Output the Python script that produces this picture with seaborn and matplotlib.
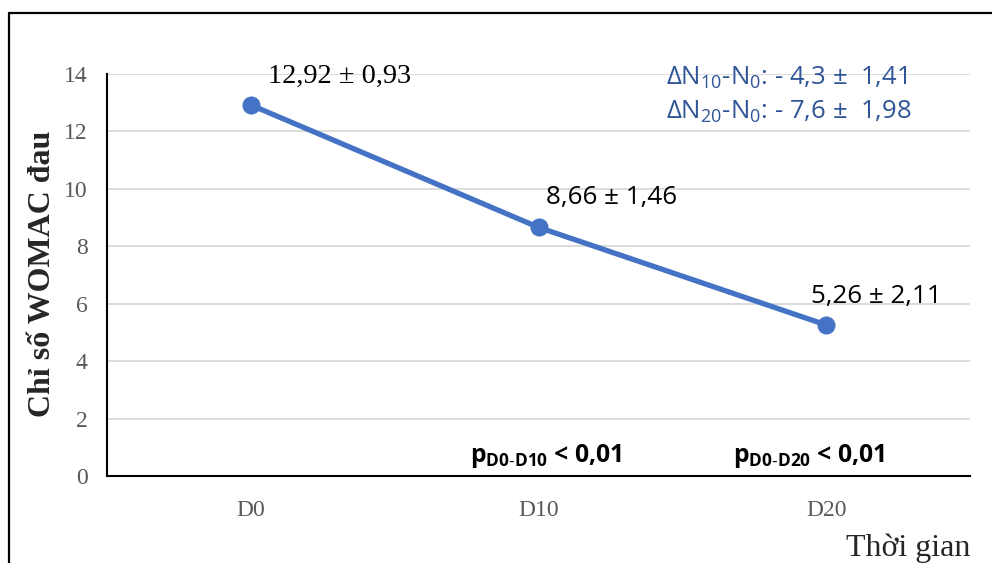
import matplotlib
matplotlib.use("Agg")
import matplotlib.pyplot as plt
import seaborn as sns
import pandas as pd
from matplotlib.lines import Line2D

# dữ liệu
thoi_diem = ["D0", "D10", "D20"]
womac = [12.92, 8.66, 5.26]
nhan = ["12,92 ± 0,93", "8,66 ± 1,46", "5,26 ± 2,11"]
delta_text = [r"$\Delta N_{10}$-$N_{0}$: - 4,3 ±  1,41",
              r"$\Delta N_{20}$-$N_{0}$: - 7,6 ±  1,98"]
p_text = [r"$\mathbf{p_{D0\text{-}D10}}$ < 0,01",
          r"$\mathbf{p_{D0\text{-}D20}}$ < 0,01"]

sns.set_style("white")
plt.rcParams['font.family'] = ['Liberation Serif', 'DejaVu Serif']
plt.rcParams['mathtext.fontset'] = 'custom'
plt.rcParams['mathtext.rm'] = 'Open Sans'
plt.rcParams['mathtext.it'] = 'Open Sans'
plt.rcParams['mathtext.bf'] = 'Open Sans:bold'
plt.rcParams['mathtext.default'] = 'regular'

W, H = 992, 563
fig = plt.figure(figsize=(W / 100, H / 100), dpi=100)
ax = fig.add_axes([107 / W, 1 - 476 / H, (970 - 107) / W, (476 - 74) / H])

df = pd.DataFrame({"t": thoi_diem, "v": womac})
sns.lineplot(data=df, x="t", y="v", ax=ax, color="#4472C4", linewidth=3.8,
             marker="o", markersize=13, markeredgewidth=0, zorder=3)

ax.set_xlim(-0.5, 2.5)
ax.set_ylim(0, 14)
ax.set_yticks(range(0, 15, 2))
ax.grid(axis="y", color="#D9D9D9", linewidth=1.3)
ax.set_axisbelow(True)
ax.set_xticks([-0.5, 0.5, 1.5, 2.5])
ax.set_xticklabels([])
ax.set_xticks(range(len(thoi_diem)), minor=True)
ax.set_xticklabels(thoi_diem, minor=True)
ax.tick_params(axis="x", which="major", length=6, width=1.2, color="black", direction="out")
ax.tick_params(axis="x", which="minor", length=0, pad=17, labelsize=17, labelcolor="#595959")
ax.tick_params(axis="y", length=6, width=1.2, color="black", direction="out",
               labelsize=17, labelcolor="#595959", pad=8)
for s in ["top", "right"]:
    ax.spines[s].set_visible(False)
for s in ["left", "bottom"]:
    ax.spines[s].set_color("black")
    ax.spines[s].set_linewidth(1.5)
ax.set_xlabel("")
ax.set_ylabel("")

# nhãn dữ liệu
offsets = [(17, 22), (7, 23), (-15, 22)]
fonts = [dict(family=['Liberation Serif'], fontsize=20.5),
         dict(family=['Open Sans'], fontsize=18.7),
         dict(family=['Open Sans'], fontsize=18.7)]
for i in range(len(thoi_diem)):
    ax.annotate(nhan[i], (i, womac[i]), xytext=offsets[i], textcoords="offset pixels",
                ha="left", va="baseline", color="black", **fonts[i])

# chú thích
fig.text(666 / W, 1 - 78 / H, delta_text[0], family=['Open Sans'], fontsize=18.5,
         color="#2F5597", ha="left", va="center")
fig.text(666 / W, 1 - 112 / H, delta_text[1], family=['Open Sans'], fontsize=18.5,
         color="#2F5597", ha="left", va="center")
fig.text(470 / W, 1 - 456 / H, p_text[0], family=['Open Sans'], fontsize=17.8,
         fontweight="bold", color="black", ha="left", va="center")
fig.text(733 / W, 1 - 456 / H, p_text[1], family=['Open Sans'], fontsize=17.8,
         fontweight="bold", color="black", ha="left", va="center")

fig.text(43 / W, 1 - 274 / H, "Chỉ số WOMAC đau", rotation=90, fontsize=23,
         fontweight="bold", ha="center", va="center")
fig.text(970 / W, 1 - 548 / H, "Thời gian", fontsize=23, ha="right", va="center")

# khung
fig.add_artist(Line2D([9 / W, 1], [1 - 13 / H, 1 - 13 / H], color="black", linewidth=1.6))
fig.add_artist(Line2D([9 / W, 9 / W], [0, 1 - 13 / H], color="black", linewidth=1.6))

fig.savefig("out.png", dpi=100)
